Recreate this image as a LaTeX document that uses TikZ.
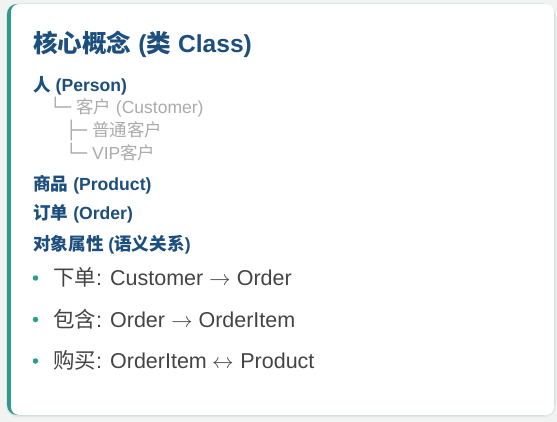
\documentclass[tikz,border=0pt]{standalone}
\usepackage{fontspec}
\setmainfont{Liberation Sans}
\newfontfamily\cjk{Noto Sans CJK SC}
\newfontfamily\boxfont{DejaVu Sans}
\newfontfamily\arrowfont{latinmodern-math.otf}
\definecolor{bgc}{HTML}{F1F3F2}
\definecolor{shadowc}{HTML}{E4E7E6}
\definecolor{tealc}{HTML}{2E9A8B}
\definecolor{dotc}{HTML}{2A9D8F}
\definecolor{bluec}{HTML}{1D4F7E}
\definecolor{grayc}{HTML}{ABABAB}
\definecolor{textc}{HTML}{444444}
\tikzset{
  titletext/.style={anchor=base west, inner sep=0pt, text=bluec, font=\bfseries\fontsize{24.6}{28}\selectfont},
  headtext/.style={anchor=base west, inner sep=0pt, text=bluec, font=\bfseries\fontsize{17.6}{20}\selectfont},
  subtext/.style={anchor=base west, inner sep=0pt, text=grayc, font=\fontsize{17.5}{20}\selectfont},
  itemtext/.style={anchor=base west, inner sep=0pt, text=textc, font=\fontsize{21.5}{25}\selectfont},
  bulletdot/.style={circle, fill=dotc, inner sep=0pt, minimum size=5.5pt}
}
\begin{document}
\begin{tikzpicture}[x=1pt,y=-1pt]
\useasboundingbox (0,0) rectangle (557,422);
\fill[bgc] (0,0) rectangle (557,422);
% shadow
\fill[shadowc, rounded corners=11pt] (6,4) rectangle (556,417);
% card with teal left border
\fill[tealc, rounded corners=10pt] (7,4) rectangle (554,415);
\fill[white, rounded corners=8pt] (11,4) rectangle (554,415);

\node[titletext] (title) at (33,53) {{\cjk 核心概念} ({\cjk 类} Class)};

\node[headtext] (person) at (33,92) {{\cjk 人} (Person)};
\node[subtext] (customer) at (50,114) {{\boxfont └─} {\cjk 客户} (Customer)};
\node[subtext] (normal) at (66,137) {{\boxfont ├─} {\cjk 普通客户}};
\node[subtext] (vip) at (66,160) {{\boxfont └─} VIP{\cjk 客户}};
\node[headtext] (product) at (33,191) {{\cjk 商品} (Product)};
\node[headtext] (order) at (33,220) {{\cjk 订单} (Order)};
\node[headtext] (props) at (33,251) {{\cjk 对象属性} ({\cjk 语义关系})};

\node[bulletdot] (d1) at (35.5,278) {};
\node[itemtext] (i1) at (53,285) {{\cjk 下单}: Customer {\arrowfont →} Order};
\node[bulletdot] (d2) at (35.5,319.5) {};
\node[itemtext] (i2) at (53,327) {{\cjk 包含}: Order {\arrowfont →} OrderItem};
\node[bulletdot] (d3) at (35.5,361) {};
\node[itemtext] (i3) at (53,368) {{\cjk 购买}: OrderItem {\arrowfont ↔} Product};
\end{tikzpicture}
\end{document}
